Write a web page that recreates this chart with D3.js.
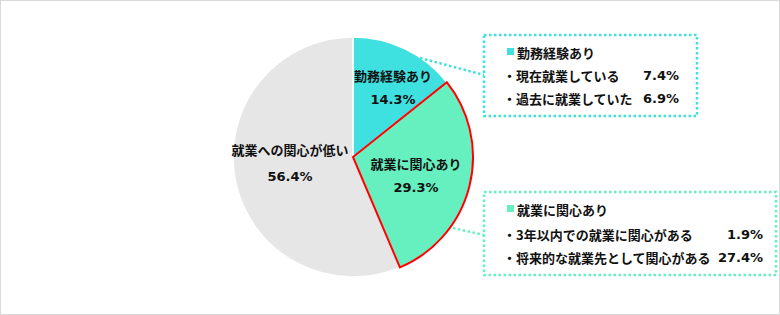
<!DOCTYPE html>
<html>
<head>
<meta charset="utf-8">
<script src="https://cdn.jsdelivr.net/npm/d3@7"></script>
<style>
  html, body { margin: 0; padding: 0; background: #fff; }
  svg { display: block; font-family: "Noto Sans CJK JP", "Noto Sans", sans-serif; }
  .num { font-family: "DejaVu Sans", "Noto Sans", sans-serif; }
</style>
</head>
<body>
<div id="chart"></div>
<script>
const categories = ["勤務経験あり", "就業に関心あり", "就業への関心が低い"];
const values = [14.3, 29.3, 56.4];
const sliceColors = ["#3fe0e0", "#66f0c0", "#e6e6e6"];

const workItems = ["・現在就業している", "・過去に就業していた"];
const workValues = [7.4, 6.9];
const interestItems = ["・3年以内での就業に関心がある", "・将来的な就業先として関心がある"];
const interestValues = [1.9, 27.4];

const width = 780, height = 315;
const cx = 353, cy = 157, r = 120;
const fmt = d => d3.format(".1f")(d) + "%";

const svg = d3.select("#chart").append("svg")
    .attr("width", width)
    .attr("height", height);

// outer frame
svg.append("rect")
    .attr("x", 0.5).attr("y", 0.5)
    .attr("width", width - 1).attr("height", height - 1)
    .attr("fill", "#fff")
    .attr("stroke", "#d9d9d9");

const pie = d3.pie().sort(null).value(d => d);
const arcs = pie(values);
const arc = d3.arc().innerRadius(0).outerRadius(r);

const g = svg.append("g").attr("transform", `translate(${cx},${cy})`);

g.selectAll("path.slice")
    .data(arcs)
    .join("path")
    .attr("class", "slice")
    .attr("d", arc)
    .attr("fill", (d, i) => sliceColors[i])
    .attr("stroke", "#fff")
    .attr("stroke-width", 1.5);

// red outline on the interest slice
g.append("path")
    .attr("d", arc(arcs[1]))
    .attr("fill", "none")
    .attr("stroke", "#ff0000")
    .attr("stroke-width", 2);

// slice labels (name line, percent line)
const labelPos = [[40, -82, 24], [63, 6, 24], [-63, -8, 27]];
arcs.forEach((a, i) => {
    const [lx, ly, gap] = labelPos[i];
    g.append("text")
        .attr("x", lx).attr("y", ly)
        .attr("text-anchor", "middle")
        .attr("dominant-baseline", "central")
        .attr("font-size", 13)
        .attr("font-weight", "bold")
        .attr("fill", "#111")
        .text(categories[i]);
    g.append("text")
        .attr("class", "num")
        .attr("x", lx).attr("y", ly + gap)
        .attr("text-anchor", "middle")
        .attr("dominant-baseline", "central")
        .attr("font-size", 13)
        .attr("font-weight", "bold")
        .attr("fill", "#111")
        .text(fmt(values[i]));
});

// callout boxes
const boxes = [
    { x: 484, y: 35, w: 213, h: 81, color: "#3fe0e0", title: categories[0], items: workItems, vals: workValues,
      valX: 679, rows: [52, 75, 98], line: [[420, 58], [484, 75]] },
    { x: 484, y: 192, w: 292, h: 83, color: "#66f0c0", title: categories[1], items: interestItems, vals: interestValues,
      valX: 763, rows: [209, 234, 257], line: [[453, 228], [484, 235]] }
];

boxes.forEach(b => {
    svg.append("line")
        .attr("x1", b.line[0][0]).attr("y1", b.line[0][1])
        .attr("x2", b.line[1][0]).attr("y2", b.line[1][1])
        .attr("stroke", b.color)
        .attr("stroke-width", 2.5)
        .attr("stroke-dasharray", "2.5,2.5");

    svg.append("rect")
        .attr("x", b.x).attr("y", b.y)
        .attr("width", b.w).attr("height", b.h)
        .attr("fill", "#fff")
        .attr("stroke", b.color)
        .attr("stroke-width", 2.5)
        .attr("stroke-dasharray", "2.5,2.5");

    svg.append("rect")
        .attr("x", b.x + 23).attr("y", b.rows[0] - 4)
        .attr("width", 7).attr("height", 7)
        .attr("fill", b.color);

    svg.append("text")
        .attr("x", b.x + 33).attr("y", b.rows[0])
        .attr("dominant-baseline", "central")
        .attr("font-size", 13)
        .attr("font-weight", "bold")
        .attr("fill", "#111")
        .text(b.title);

    b.items.forEach((it, j) => {
        const y = b.rows[j + 1];
        svg.append("text")
            .attr("x", b.x + 19).attr("y", y)
            .attr("dominant-baseline", "central")
            .attr("font-size", 13)
            .attr("font-weight", "bold")
            .attr("fill", "#111")
            .text(it);
        svg.append("text")
            .attr("class", "num")
            .attr("x", b.valX).attr("y", y)
            .attr("text-anchor", "end")
            .attr("dominant-baseline", "central")
            .attr("font-size", 13)
            .attr("font-weight", "bold")
            .attr("fill", "#111")
            .text(fmt(b.vals[j]));
    });
});
</script>
</body>
</html>
